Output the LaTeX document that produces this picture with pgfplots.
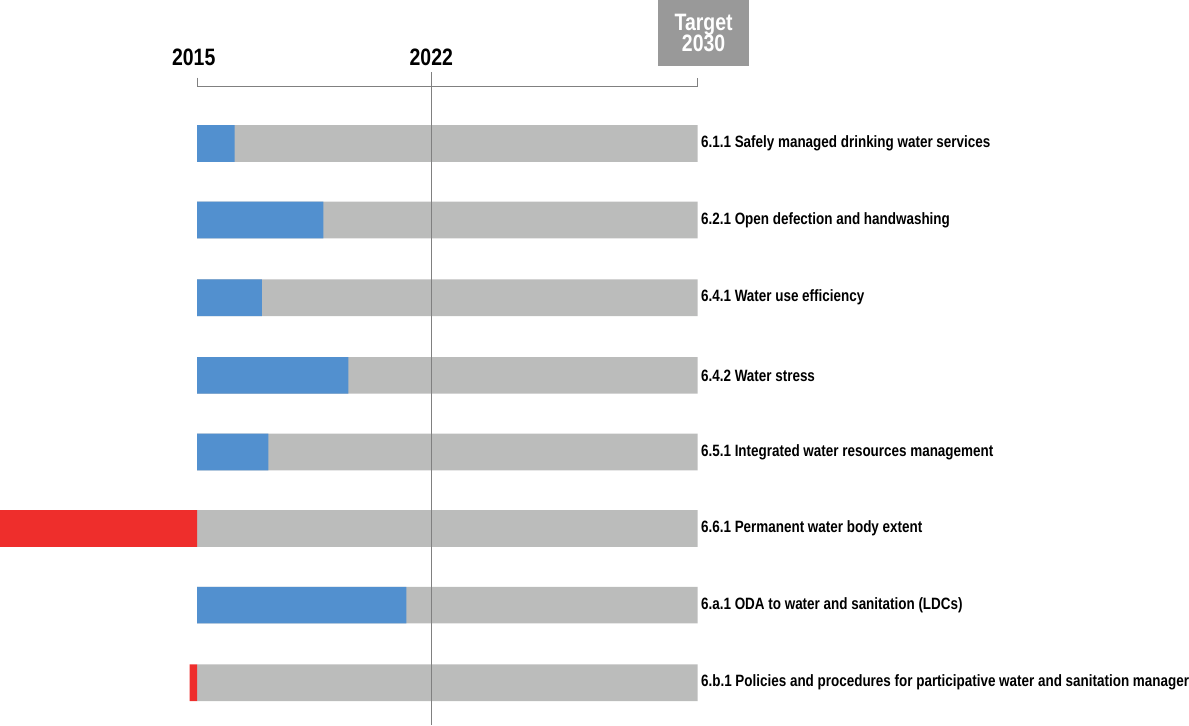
\documentclass[border=0pt]{standalone}
\usepackage{pgfplots}
\pgfplotsset{compat=1.18}
\usepackage{fontspec}
\setmainfont{Liberation Sans}[FakeStretch=0.82]
\definecolor{cblue}{HTML}{5290CF}
\definecolor{cgray}{HTML}{BBBCBB}
\definecolor{cred}{HTML}{EE2E2C}
\definecolor{cbox}{HTML}{999999}
\tikzset{lab/.style={anchor=west,font=\bfseries\fontsize{7.6}{9}\selectfont,inner sep=0pt}}
\begin{document}
\begin{tikzpicture}
\begin{axis}[width=594.5pt,height=340pt,scale only axis,
  xmin=-0.41595,xmax=2.14655,ymin=0,ymax=680,y dir=reverse,
  axis lines=none,clip=false]
\addplot[xbar,bar width=17pt,fill=cgray,draw=none] coordinates {(1,141)(1,212)(1,284)(1,356)(1,427)(1,498)(1,569)(1,641)};
\addplot[xbar,bar width=17pt,fill=cblue,draw=none] coordinates {(0.075,141)(0.252,212)(0.129,284)(0.302,356)(0.142,427)(0.418,569)};
\addplot[xbar,bar width=17pt,fill=cred,draw=none] coordinates {(-0.394,498)(-0.015,641)};
\draw[gray,line width=0.6pt] (axis cs:0,80)--(axis cs:0,88)--(axis cs:1,88)--(axis cs:1,80);
\draw[gray,line width=0.6pt] (axis cs:0.4677,75)--(axis cs:0.4677,680);
\fill[cbox] (axis cs:0.9203,8) rectangle (axis cs:1.1034,69);
\node[font=\bfseries\fontsize{11}{12}\selectfont,align=center,white] at (axis cs:1.0118,38.5) {Target\\[-2pt]2030};
\node[font=\bfseries\fontsize{11}{12}\selectfont] at (axis cs:-0.007,61) {2015};
\node[font=\bfseries\fontsize{11}{12}\selectfont] at (axis cs:0.4677,61) {2022};
\node[lab] at (axis cs:1.006,141) {6.1.1 Safely managed drinking water services};
\node[lab] at (axis cs:1.006,212) {6.2.1 Open defection and handwashing};
\node[lab] at (axis cs:1.006,284) {6.4.1 Water use efficiency};
\node[lab] at (axis cs:1.006,356) {6.4.2 Water stress};
\node[lab] at (axis cs:1.006,427) {6.5.1 Integrated water resources management};
\node[lab] at (axis cs:1.006,498) {6.6.1 Permanent water body extent};
\node[lab] at (axis cs:1.006,569) {6.a.1 ODA to water and sanitation (LDCs)};
\node[lab] at (axis cs:1.006,641) {6.b.1 Policies and procedures for participative water and sanitation manager};
\end{axis}
\end{tikzpicture}
\end{document}
